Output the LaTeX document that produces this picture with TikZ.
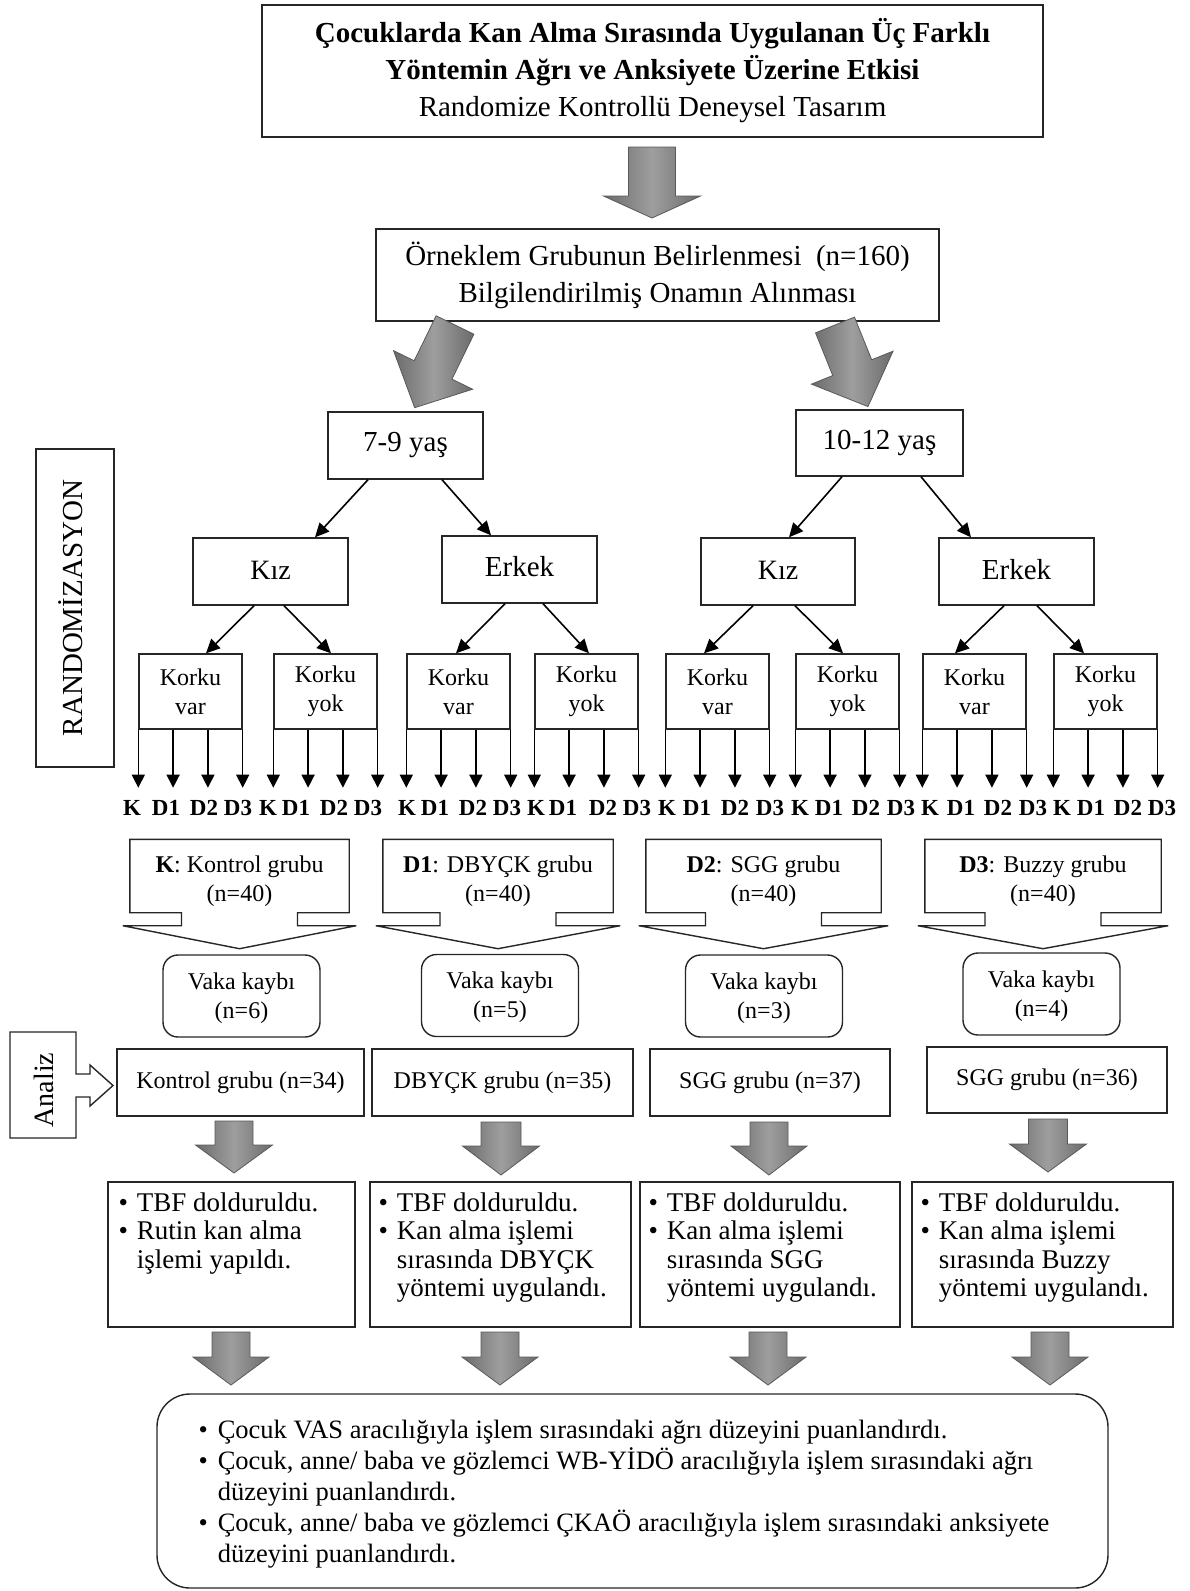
\documentclass[tikz,border=0pt]{standalone}
\usepackage{fontspec}
\setmainfont{Liberation Serif}
\usetikzlibrary{arrows.meta,calc}
\newcommand\garr[7]{%
\begin{scope}[shift={(#1,#2)},rotate=#3]
\path[garrow] (-#5,0) -- (-#5,#4-#7) -- (-#6,#4-#7) -- (0,#4) -- (#6,#4-#7) -- (#5,#4-#7) -- (#5,0) -- cycle;
\end{scope}}
\begin{document}
\begin{tikzpicture}[x=1pt,y=-1pt,
  bxline/.style={draw=black!85, line width=1.4pt},
  bx/.style={bxline, fill=white, inner sep=0pt, align=center},
  tarrow/.style={line width=1.6pt, -{Triangle[length=14pt,width=13pt]}},
  darrow/.style={line width=1.5pt, -{Triangle[length=13pt,width=13pt]}},
  garrow/.style={draw=black!65, line width=0.8pt, left color=black!58, right color=black!58, middle color=black!38},
  f28/.style={font=\fontsize{28}{37}\selectfont},
  f29/.style={font=\fontsize{29}{37}\selectfont},
  f24/.style={font=\fontsize{24}{29}\selectfont},
]
\useasboundingbox (0,0) rectangle (1190,1591);

% title
\node[bx, f29, minimum width=781pt, minimum height=132pt] (title) at (652.5,71)
 {\textbf{Çocuklarda Kan Alma Sırasında Uygulanan Üç Farklı}\\\textbf{Yöntemin Ağrı ve Anksiyete Üzerine Etkisi}\\Randomize Kontrollü Deneysel Tasarım};

\garr{652}{147}{0}{71}{23.5}{48.5}{22}

\node[bx, f29, minimum width=563pt, minimum height=92pt] (orn) at (657.5,275)
 {Örneklem Grubunun Belirlenmesi\ \ (n=160)\\Bilgilendirilmiş Onamın Alınması};

\garr{455}{325}{-26}{92}{21}{44}{42}
\garr{835}{325}{22}{88}{21}{44}{42}

% age boxes
\node[bx, f29, minimum width=155pt, minimum height=67pt] (yas1) at (405.5,445.5) {\raisebox{3pt}{7-9 yaş}};
\node[bx, f29, minimum width=167pt, minimum height=66pt] (yas2) at (879.5,443) {\raisebox{1pt}{10-12 yaş}};

% gender boxes
\node[bx, f28, minimum width=155pt, minimum height=67pt] (kiz1) at (270.5,571.5) {\raisebox{3pt}{Kız}};
\node[bx, f29, minimum width=155pt, minimum height=67pt] (erk1) at (519.5,569.5) {\raisebox{6pt}{Erkek}};
\node[bx, f28, minimum width=154pt, minimum height=67pt] (kiz2) at (778,571.5) {\raisebox{3pt}{Kız}};
\node[bx, f29, minimum width=155pt, minimum height=67pt] (erk2) at (1016.5,571.5) {\raisebox{4pt}{Erkek}};

\draw[tarrow] ([xshift=-37.5pt]yas1.south) -- ([xshift=44.5pt]kiz1.north);
\draw[tarrow] ([xshift=36.5pt]yas1.south) -- ([xshift=-28.5pt]erk1.north);
\draw[tarrow] ([xshift=-37.5pt]yas2.south) -- ([xshift=11pt]kiz2.north);
\draw[tarrow] ([xshift=41.5pt]yas2.south) -- ([xshift=-45.5pt]erk2.north);

% korku boxes
\foreach \lx/\nm/\tx in {139/k1/var,274/k2/yok,407/k3/var,535/k4/yok,666/k5/var,796/k6/yok,923/k7/var,1054/k8/yok}{
  \node[bx, f24, minimum width=103pt, minimum height=75pt] (\nm) at (\lx+51.5,691.5) {Korku\\\tx};
  \foreach \f [count=\j] in {0,0.3333,0.6667,1}{
    \coordinate (\nm-e\j) at ($(\nm.south west)!\f!(\nm.south east)+(0,58)$);
    \draw[darrow] ($(\nm.south west)!\f!(\nm.south east)$) -- (\nm-e\j);
  }
}
\foreach \lx/\lab [count=\i] in {132/K,166/D1,204/D2,238/D3,268/K,296/D1,334/D2,368/D3,407/K,435/D1,473/D2,507/D3,536/K,563/D1,603/D2,637/D3,667/K,697/D1,735/D2,770/D3,800/K,829/D1,866/D2,901/D3,930/K,961/D1,998/D2,1033/D3,1062/K,1091/D1,1128/D2,1162/D3}{
  \node[font=\bfseries\fontsize{23}{23}\selectfont, inner sep=0pt] (lab\i) at (\lx,808) {\lab};
}

\draw[tarrow] ([xshift=-16.5pt]kiz1.south) -- ([xshift=15.5pt]k1.north);
\draw[tarrow] ([xshift=13.5pt]kiz1.south) -- ([xshift=5.5pt]k2.north);
\draw[tarrow] ([xshift=-14.5pt]erk1.south) -- ([xshift=-2.5pt]k3.north);
\draw[tarrow] ([xshift=23.5pt]erk1.south) -- ([xshift=2.5pt]k4.north);
\draw[tarrow] ([xshift=-25pt]kiz2.south) -- ([xshift=-13.5pt]k5.north);
\draw[tarrow] ([xshift=17pt]kiz2.south) -- ([xshift=-4.5pt]k6.north);
\draw[tarrow] ([xshift=-12.5pt]erk2.south) -- ([xshift=-19.5pt]k7.north);
\draw[tarrow] ([xshift=20.5pt]erk2.south) -- ([xshift=-21.5pt]k8.north);

% randomization label
\node[bx, minimum width=78pt, minimum height=318pt] (rand) at (75,608) {};
\node[font=\fontsize{29}{29}\selectfont, rotate=90, inner sep=0pt] (randt) at ([shift={(-4,0)}]rand.center) {RANDOMİZASYON};

% group callouts
\foreach \cx/\nm/\w/\tx in {239.5/g1/219/{\textbf{K}: Kontrol grubu},498/g2/230/{\textbf{D1}: DBYÇK grubu},763.5/g3/235/{\textbf{D2}: SGG grubu},1043/g4/236/{\textbf{D3}: Buzzy grubu}}{
  \node[f24, align=center, inner sep=0pt, minimum width=\w pt, minimum height=73pt] (\nm) at (\cx,876) {};
  \draw[bxline, fill=white] (\nm.south west) -- ([shift={(-58,0)}]\nm.south) -- ([shift={(-58,13)}]\nm.south) -- ([shift={(-7,13)}]\nm.south west) -- ([shift={(0,36)}]\nm.south) -- ([shift={(7,13)}]\nm.south east) -- ([shift={(58,13)}]\nm.south) -- ([shift={(58,0)}]\nm.south) -- (\nm.south east) -- (\nm.north east) -- (\nm.north west) -- cycle;
  \node[f24, align=center, inner sep=0pt] (\nm-t) at ([shift={(0,5)}]\nm.center) {\tx\\(n=40)};
}

% vaka kaybi
\foreach \cx/\cy/\nm/\n in {241.5/996/v1/6,500/995.5/v2/5,764/996/v3/3,1041.5/994/v4/4}{
  \node[bx, rounded corners=15pt, minimum width=157pt, minimum height=82pt] (\nm) at (\cx,\cy) {};
  \node[f24, align=center, inner sep=0pt] (\nm-t) at ([shift={(0,2)}]\nm.center) {Vaka kaybı\\(n=\n)};
}

% analysis boxes
\node[bx, f24, minimum width=247pt, minimum height=67pt] (a1) at (240.5,1082.5) {Kontrol grubu (n=34)};
\node[bx, f24, minimum width=261pt, minimum height=67pt] (a2) at (502.5,1082.5) {\raisebox{-4pt}{DBYÇK grubu (n=35)}};
\node[bx, f24, minimum width=240pt, minimum height=67pt] (a3) at (770,1082.5) {SGG grubu (n=37)};
\node[bx, f24, minimum width=240pt, minimum height=66pt] (a4) at (1047,1080) {SGG grubu (n=36)};

% analiz
\draw[bxline, fill=white] (10,1032) -- (76,1032) -- (76,1074) -- (90,1074) -- (90,1065) -- (113,1085.5) -- (90,1106) -- (90,1097) -- (76,1097) -- (76,1138) -- (10,1138) -- cycle;
\node[font=\fontsize{28}{28}\selectfont, rotate=90, inner sep=0pt] (analiz) at (44,1090) {Analiz};

% gray arrows row 1
\garr{234}{1121}{0}{52}{19}{38.5}{28}
\garr{501}{1122}{0}{53}{20}{38.5}{29}
\garr{769}{1122}{0}{53}{19}{38}{29}
\garr{1048}{1119}{0}{53}{19.5}{38.5}{28}

% bullet boxes
\foreach \cx/\nm/\w in {231.5/b1/247,500.5/b2/261,770/b3/260,1042.5/b4/261}{
  \node[bx, minimum width=\w pt, minimum height=145pt] (\nm) at (\cx,1254.5) {};
}
\tikzset{btxt/.style={anchor=north west, inner sep=0pt, align=left, font=\fontsize{27}{28.5}\selectfont}}
\node[btxt] (b1t) at ([shift={(11,10)}]b1.north west) {\begin{tabular}{@{}l@{\hspace{9pt}}l@{}}\textbullet & TBF dolduruldu.\\ \textbullet & Rutin kan alma\\ & işlemi yapıldı.\end{tabular}};
\node[btxt] (b2t) at ([shift={(9,10)}]b2.north west) {\begin{tabular}{@{}l@{\hspace{9pt}}l@{}}\textbullet & TBF dolduruldu.\\ \textbullet & Kan alma işlemi\\ & sırasında DBYÇK\\ & yöntemi uygulandı.\end{tabular}};
\node[btxt] (b3t) at ([shift={(9,10)}]b3.north west) {\begin{tabular}{@{}l@{\hspace{9pt}}l@{}}\textbullet & TBF dolduruldu.\\ \textbullet & Kan alma işlemi\\ & sırasında SGG\\ & yöntemi uygulandı.\end{tabular}};
\node[btxt] (b4t) at ([shift={(9,10)}]b4.north west) {\begin{tabular}{@{}l@{\hspace{9pt}}l@{}}\textbullet & TBF dolduruldu.\\ \textbullet & Kan alma işlemi\\ & sırasında Buzzy\\ & yöntemi uygulandı.\end{tabular}};

% gray arrows row 2
\garr{231}{1332}{0}{53}{19}{38}{28}
\garr{500}{1332}{0}{53}{19}{38}{28}
\garr{768}{1332}{0}{53}{19}{38}{28}
\garr{1050}{1332}{0}{53}{19}{38}{28}

% final box
\node[bx, rounded corners=33pt, minimum width=951pt, minimum height=194pt] (fin) at (632.5,1491) {};
\node[anchor=north west, inner sep=0pt, font=\fontsize{26.5}{31}\selectfont] (fint) at ([shift={(42,23)}]fin.north west)
 {\begin{tabular}{@{}l@{\hspace{10pt}}l@{}}\textbullet & Çocuk VAS aracılığıyla işlem sırasındaki ağrı düzeyini puanlandırdı.\\
 \textbullet & Çocuk, anne/ baba ve gözlemci WB-YİDÖ aracılığıyla işlem sırasındaki ağrı\\
 & düzeyini puanlandırdı.\\
 \textbullet & Çocuk, anne/ baba ve gözlemci ÇKAÖ aracılığıyla işlem sırasındaki anksiyete\\
 & düzeyini puanlandırdı.\end{tabular}};
\end{tikzpicture}
\end{document}
